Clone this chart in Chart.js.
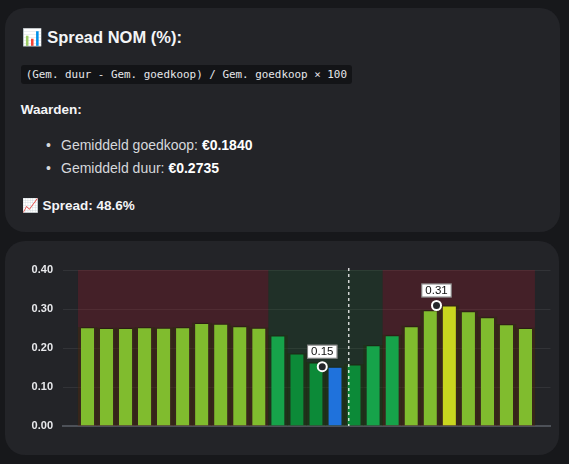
<!DOCTYPE html>
<html lang="nl">
<head>
<meta charset="utf-8">
<title>Spread NOM</title>
<script src="https://cdn.jsdelivr.net/npm/chart.js@4.4.1/dist/chart.umd.min.js"></script>
<style>
    html, body {
        margin: 0;
        padding: 0;
        width: 569px;
        height: 464px;
        background: #17181b;
        overflow: hidden;
        font-family: "Segoe UI", "Liberation Sans", Arial, sans-serif;
    }
    .card {
        position: absolute;
        left: 5px;
        background: #232428;
        border-radius: 20px;
    }
    .info { top: 8px; width: 555px; height: 224px; color: #d6d8dc; }
    .chart-card { top: 241px; width: 554px; height: 214px; }
    .info > * { position: absolute; margin: 0; }
    .title {
        left: 17px; top: 27px;
        font-size: 16.5px; line-height: 20px; font-weight: 700; color: #f4f5f7;
    }
    .emoji { font-family: "Noto Color Emoji", "Segoe UI Emoji", "DejaVu Sans", sans-serif; font-weight: 400; }
    .formula {
        left: 15.7px; top: 57px; height: 19px;
        padding: 0 5px;
        background: #131417; border-radius: 3px;
        font-family: "DejaVu Sans Mono", "Liberation Mono", monospace;
        font-size: 10.9px; line-height: 19px; color: #e6e7ea;
        white-space: pre;
    }
    .label {
        left: 15.7px; top: 93px;
        font-size: 13.5px; line-height: 18px; font-weight: 700; color: #f4f5f7;
    }
    .values {
        left: 56px; top: 126px; padding: 0;
        list-style: none;
        font-size: 14px; line-height: 23px;
    }
    .values li { position: relative; }
    .values li::before {
        content: "\2022"; position: absolute; left: -15px; top: 0; color: #d6d8dc;
    }
    .values b { color: #ffffff; }
    .spread {
        left: 17px; top: 188px;
        font-size: 13.5px; line-height: 18px; font-weight: 700; color: #f4f5f7;
    }
    #priceChart { display: block; }
</style>
</head>
<body>

<div class="card info">
    <h3 class="title" style="top: 19px;"><span class="emoji">📊</span> Spread NOM (%):</h3>
    <code class="formula">(Gem. duur - Gem. goedkoop) / Gem. goedkoop × 100</code>
    <p class="label">Waarden:</p>
    <ul class="values">
        <li>Gemiddeld goedkoop: <b>€0.1840</b></li>
        <li>Gemiddeld duur: <b>€0.2735</b></li>
    </ul>
    <p class="spread"><span class="emoji">📈</span> Spread: 48.6%</p>
</div>

<div class="card chart-card">
    <canvas id="priceChart" width="554" height="214"></canvas>
</div>

<script>
// uurprijzen (EUR/kWh)
const hours = ['00:00', '01:00', '02:00', '03:00', '04:00', '05:00', '06:00', '07:00',
               '08:00', '09:00', '10:00', '11:00', '12:00', '13:00', '14:00', '15:00',
               '16:00', '17:00', '18:00', '19:00', '20:00', '21:00', '22:00', '23:00'];
const prices = [0.253, 0.251, 0.251, 0.253, 0.252, 0.253, 0.264, 0.262,
                0.256, 0.252, 0.232, 0.186, 0.163, 0.152, 0.158, 0.207,
                0.233, 0.256, 0.297, 0.309, 0.294, 0.279, 0.261, 0.251];
const yTicks = [0, 0.1, 0.2, 0.3, 0.4];

// blokken: duur / goedkoop (uren)
const zoneStart = [0, 10, 16];
const zoneEnd = [10, 16, 24];
const zoneType = ['duur', 'goedkoop', 'duur'];

// huidige tijd in uren (14:13)
const nowHour = 14.22;

const zoneColors = {
    duur: 'rgba(200, 20, 40, 0.2)',
    goedkoop: 'rgba(20, 120, 40, 0.15)'
};

const minIdx = prices.indexOf(Math.min(...prices));
const maxIdx = prices.indexOf(Math.max(...prices));

function barColor(value, i) {
    if (i === minIdx) return '#1f72dc';
    if (i === maxIdx) return '#c9d61f';
    if (value < 0.20) return '#0c8a38';
    if (value < 0.24) return '#16a34a';
    return '#80bc2e';
}

const barPoints = prices.map((v, i) => ({ x: i, y: v }));
const markerShift = -0.67;
const markerPoints = [minIdx, maxIdx].map(i => ({ x: i + markerShift, y: prices[i] }));

const zonePlugin = {
    id: 'zones',
    beforeDatasetsDraw(chart) {
        const { ctx, scales: { x, y } } = chart;
        ctx.save();
        zoneStart.forEach((start, k) => {
            const left = x.getPixelForValue(start - 0.5);
            const right = x.getPixelForValue(zoneEnd[k] - 0.5);
            const top = y.getPixelForValue(yTicks[yTicks.length - 1]);
            const bottom = y.getPixelForValue(0);
            ctx.fillStyle = zoneColors[zoneType[k]];
            ctx.fillRect(left, top, right - left, bottom - top);
        });
        ctx.restore();
    },
    afterDatasetsDraw(chart) {
        const { ctx, chartArea, scales: { x } } = chart;
        ctx.save();
        // nu-lijn
        const nx = x.getPixelForValue(nowHour - 0.5);
        ctx.strokeStyle = 'rgba(255, 255, 255, 0.8)';
        ctx.lineWidth = 1.5;
        ctx.setLineDash([3, 3]);
        ctx.beginPath();
        ctx.moveTo(nx, chartArea.top - 2);
        ctx.lineTo(nx, chartArea.bottom);
        ctx.stroke();
        ctx.setLineDash([]);

        // min / max labels
        const meta = chart.getDatasetMeta(0);
        ctx.font = '11.5px "Segoe UI", "Liberation Sans", Arial, sans-serif';
        ctx.textAlign = 'center';
        ctx.textBaseline = 'middle';
        meta.data.forEach((pt, k) => {
            const text = markerPoints[k].y.toFixed(2);
            const w = ctx.measureText(text).width + 8;
            const h = 14;
            const bx = pt.x - w / 2;
            const by = pt.y - 8 - h;
            ctx.fillStyle = '#ffffff';
            ctx.fillRect(bx, by, w, h);
            ctx.strokeStyle = 'rgba(0, 0, 0, 0.5)';
            ctx.lineWidth = 1;
            ctx.strokeRect(bx + 0.5, by + 0.5, w - 1, h - 1);
            ctx.fillStyle = '#111111';
            ctx.fillText(text, pt.x, by + h / 2 + 0.5);
        });
        ctx.restore();
    }
};

new Chart(document.getElementById('priceChart'), {
    type: 'bar',
    data: {
        datasets: [{
            type: 'scatter',
            label: 'min/max',
            data: markerPoints,
            pointRadius: 4.5,
            pointBorderWidth: 2,
            pointBackgroundColor: '#25262b',
            pointBorderColor: '#ffffff',
            order: 0
        }, {
            label: 'Prijs',
            data: barPoints,
            backgroundColor: prices.map(barColor),
            borderColor: 'rgba(0, 0, 0, 0.22)',
            borderWidth: { top: 1, left: 0, right: 0, bottom: 0 },
            borderSkipped: false,
            categoryPercentage: 1,
            barPercentage: 0.7,
            grouped: false,
            order: 1
        }, {
            label: 'schaduw',
            data: barPoints,
            backgroundColor: 'rgba(30, 50, 0, 0.3)',
            borderWidth: 0,
            categoryPercentage: 1,
            barPercentage: 1,
            grouped: false,
            order: 2
        }]
    },
    options: {
        responsive: false,
        animation: false,
        layout: {
            padding: { left: 0, right: 8.5, top: 29, bottom: 29 }
        },
        plugins: {
            legend: { display: false },
            tooltip: { enabled: false }
        },
        scales: {
            x: {
                type: 'linear',
                offset: false,
                min: -1.313,
                max: 24.317,
                ticks: { display: false },
                grid: { display: false },
                border: { display: true, color: '#4d5158', width: 2 },
                afterFit(scale) { scale.height = 0; }
            },
            y: {
                min: 0,
                max: 0.4,
                ticks: {
                    stepSize: 0.1,
                    padding: 9.5,
                    color: '#e8e9ec',
                    font: { family: '"Segoe UI", "Liberation Sans", Arial, sans-serif', size: 11, weight: 'bold' },
                    callback: v => v.toFixed(2)
                },
                grid: { color: 'rgba(255, 255, 255, 0.07)', drawTicks: false },
                border: { display: false },
                afterFit(scale) { scale.width = 57.5; }
            }
        }
    },
    plugins: [zonePlugin]
});
</script>
</body>
</html>
